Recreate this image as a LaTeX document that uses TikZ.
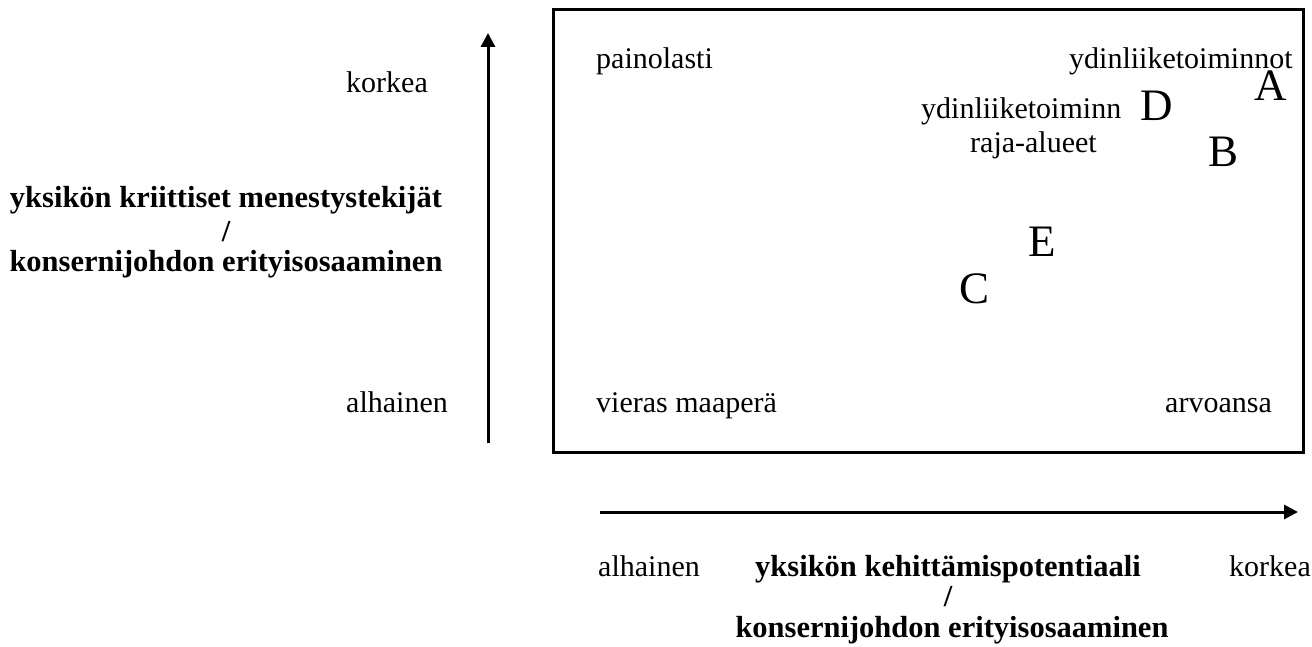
\documentclass[tikz,border=0pt]{standalone}
\usepackage{fontspec}
\setmainfont{Liberation Serif}
\usetikzlibrary{arrows.meta}
\begin{document}
\begin{tikzpicture}[x=1pt,y=-1pt,
  lbl/.style={font=\fontsize{30}{34}\selectfont, inner sep=0pt, anchor=base west},
  bld/.style={font=\fontsize{30.5}{34}\selectfont\bfseries, inner sep=0pt, anchor=base},
  big/.style={font=\fontsize{45}{50}\selectfont, inner sep=0pt},
  axis/.style={line width=3pt, -{Triangle[length=14pt,width=14pt]}}]
\useasboundingbox (0,0) rectangle (1312,647);
\node[draw, line width=3pt, minimum width=750pt, minimum height=442pt, inner sep=0pt] (box) at (928,231) {};
\coordinate (ys) at (488,443);
\coordinate (ye) at (488,33);
\draw[axis] (ys) -- (ye);
\coordinate (xs) at (600,512);
\coordinate (xe) at (1298,512);
\draw[axis] (xs) -- (xe);
% left labels
\node[lbl] (korkeaL) at (346,93) {korkea};
\node[bld] (yk1) at (226,208) {yksikön kriittiset menestystekijät};
\node[bld] (ys1) at (226,241) {/};
\node[bld] (yk2) at (226,272) {konsernijohdon erityisosaaminen};
\node[lbl] (alhL) at (346,412) {alhainen};
% inside box
\node[lbl] (pain) at (596,69) {painolasti};
\node[lbl] (ydin) at (1069,69) {ydinliiketoiminnot};
\node[big] (A) at (1271,86) {A};
\node[lbl] (ydin2) at (921,119) {ydinliiketoiminn};
\node[big] (D) at (1157,106) {D};
\node[lbl] (raja) at (970,153) {raja-alueet};
\node[big] (B) at (1223,152) {B};
\node[big] (E) at (1042,242) {E};
\node[big] (C) at (974,289) {C};
\node[lbl] (vier) at (596,412) {vieras maaperä};
\node[lbl] (arvo) at (1165,412) {arvoansa};
% bottom labels
\node[lbl] (alhB) at (598,576) {alhainen};
\node[bld] (xk1) at (948,576) {yksikön kehittämispotentiaali};
\node[lbl] (korkeaB) at (1229,576) {korkea};
\node[bld] (xs1) at (948,606) {/};
\node[bld] (xk2) at (952,637) {konsernijohdon erityisosaaminen};
\end{tikzpicture}
\end{document}
